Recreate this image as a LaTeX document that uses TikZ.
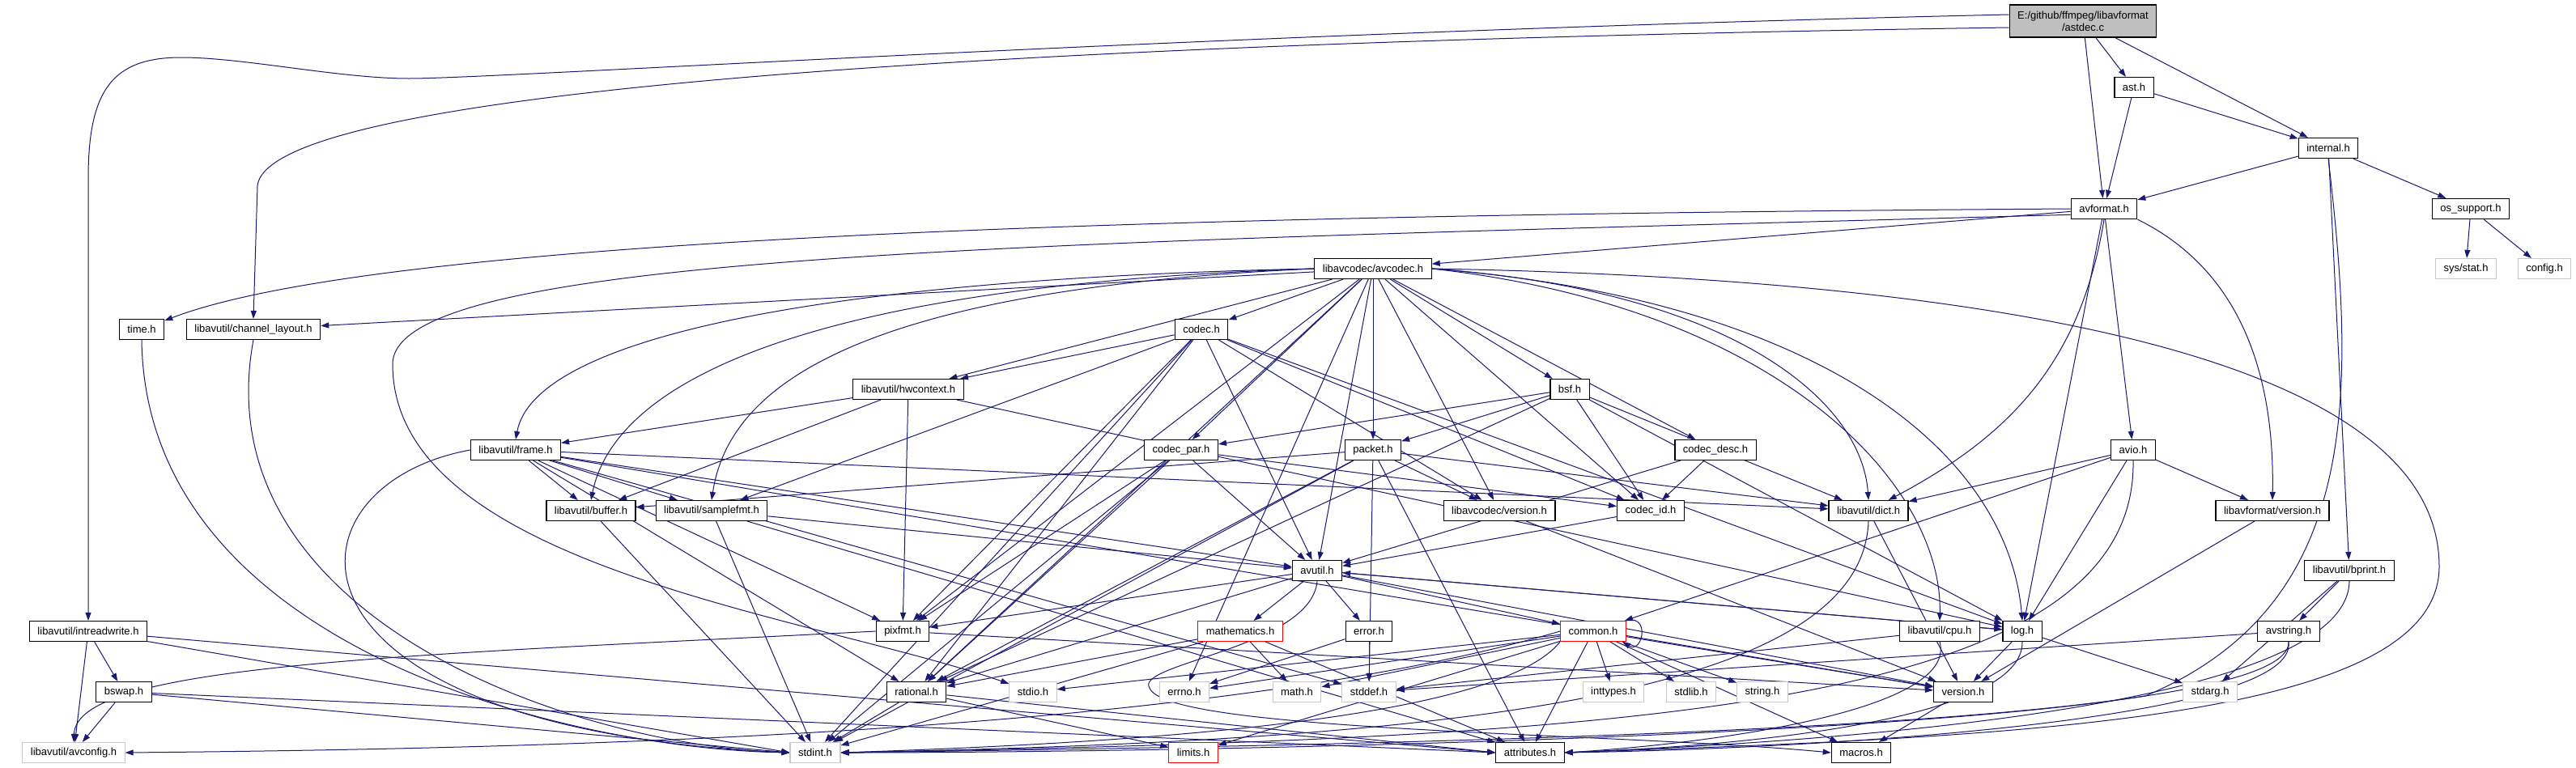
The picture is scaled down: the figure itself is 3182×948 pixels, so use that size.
\documentclass[tikz,border=0pt]{standalone}
\usepackage{fontspec}
\setmainfont{Liberation Sans}
\usetikzlibrary{arrows.meta}
\definecolor{edgeblue}{HTML}{191970}
\definecolor{rootgray}{HTML}{BFBFBF}
\definecolor{sysgray}{HTML}{C8C8C8}
\pgfdeclarelayer{paper}
\pgfdeclarelayer{bg}
\pgfsetlayers{paper,bg,main}

\begin{document}
\begin{tikzpicture}[x=1pt,y=-1pt,
  every node/.style={font=\fontsize{13}{15}\selectfont,inner xsep=10pt,inner ysep=2pt,minimum height=25pt},
  hdr/.style={draw=black,line width=1.2pt,fill=white},
  sys/.style={draw=sysgray,line width=1.2pt,fill=white},
  cut/.style={draw=red,line width=1.2pt,fill=white},
  e/.style={draw=edgeblue,line width=1pt,-{Triangle[length=10pt,width=7pt]}}]
\begin{pgfonlayer}{paper}
\fill[white] (0,0) rectangle (3182,948);
\end{pgfonlayer}
\useasboundingbox (0,0) rectangle (3182,948);
% top rows
\node[hdr,fill=rootgray,align=center,minimum height=40pt,inner ysep=1pt] (astdec) at (2573,26) {E:/github/ffmpeg/libavformat\\/astdec.c};
\node[hdr] (ast) at (2636,108) {ast.h};
\node[hdr] (internal) at (2876,183) {internal.h};
\node[hdr] (avformat) at (2599,258) {avformat.h};
\node[hdr] (ossup) at (3052,258) {os\_support.h};
\node[sys] (sysstat) at (3046,332) {sys/stat.h};
\node[sys] (config) at (3143,332) {config.h};
\node[hdr] (avcodec) at (1696,332) {libavcodec/avcodec.h};
\node[hdr] (time) at (175,407) {time.h};
\node[hdr] (chlayout) at (313,407) {libavutil/channel\_layout.h};
\node[hdr] (codec) at (1484,407) {codec.h};
\node[hdr] (hwctx) at (1122,481) {libavutil/hwcontext.h};
\node[hdr] (bsf) at (1939,481) {bsf.h};
% middle rows
\node[hdr] (frame) at (637,556) {libavutil/frame.h};
\node[hdr] (codecpar) at (1459,556) {codec\_par.h};
\node[hdr] (packet) at (1696,556) {packet.h};
\node[hdr] (codecdesc) at (2119,556) {codec\_desc.h};
\node[hdr] (avio) at (2635,556) {avio.h};
\node[hdr] (buffer) at (730,631) {libavutil/buffer.h};
\node[hdr] (samplefmt) at (879,631) {libavutil/samplefmt.h};
\node[hdr] (lavcver) at (1852,631) {libavcodec/version.h};
\node[hdr] (codecid) at (2039,631) {codec\_id.h};
\node[hdr] (dict) at (2308,631) {libavutil/dict.h};
\node[hdr] (lavfver) at (2807,631) {libavformat/version.h};
\node[hdr] (avutil) at (1627,705) {avutil.h};
\node[hdr] (bprint) at (2902,705) {libavutil/bprint.h};
\node[hdr] (intrw) at (109,780) {libavutil/intreadwrite.h};
\node[hdr] (pixfmt) at (1115,780) {pixfmt.h};
\node[cut] (mathem) at (1532,780) {mathematics.h};
\node[hdr] (error) at (1691,780) {error.h};
\node[cut] (common) at (1968,780) {common.h};
\node[hdr] (cpu) at (2396,780) {libavutil/cpu.h};
\node[hdr] (log) at (2498,780) {log.h};
\node[hdr] (avstring) at (2827,780) {avstring.h};
% bottom rows
\node[hdr] (bswap) at (153,855) {bswap.h};
\node[hdr] (rational) at (1132,855) {rational.h};
\node[sys] (stdio) at (1276,855) {stdio.h};
\node[sys] (errno) at (1463,855) {errno.h};
\node[sys] (math) at (1602,855) {math.h};
\node[sys] (stddef) at (1691,855) {stddef.h};
\node[sys] (inttypes) at (1993,855) {inttypes.h};
\node[sys] (stdlib) at (2089,855) {stdlib.h};
\node[sys] (string) at (2177,855) {string.h};
\node[hdr] (version) at (2425,855) {version.h};
\node[sys] (stdarg) at (2730,855) {stdarg.h};
\node[sys] (avconfig) at (91,930) {libavutil/avconfig.h};
\node[sys] (stdint) at (1007,930) {stdint.h};
\node[cut] (limits) at (1474,930) {limits.h};
\node[hdr] (attributes) at (1890,930) {attributes.h};
\node[hdr] (macros) at (2299,930) {macros.h};
\begin{pgfonlayer}{bg}
% astdec.c and libavformat
\draw[e] (astdec)--(ast);\draw[e] (astdec)--(internal);\draw[e] (astdec)--(avformat);
\draw[e] (astdec.175) .. controls (1500,40) and (620,97) .. (505,97) .. controls (420,97) and (300,71) .. (224,71) .. controls (140,71) and (109,110) .. (109,220) -- (intrw.north);
\draw[e] (astdec.185) .. controls (1400,50) and (330,100) .. (318,230) -- (chlayout.north);
\draw[e] (ast)--(avformat);\draw[e] (ast)--(internal);
\draw[e] (internal)--(avformat);\draw[e] (internal)--(ossup);\draw[e] (internal)--(bprint);
\draw[e] (internal.south) .. controls (2912,500) and (2912,750) .. (2650,860) .. controls (2300,915) and (1400,930) .. (stdint.east);
\draw[e] (ossup)--(sysstat);\draw[e] (ossup)--(config);
\draw[e] (avformat)--(avcodec);\draw[e] (avformat)--(log);\draw[e] (avformat)--(avio);
\draw[e] (avformat.south) .. controls (2570,450) and (2480,540) .. (dict);
\draw[e] (avformat.south east) .. controls (2760,330) and (2810,450) .. (lavfver.north);
\draw[e] (avformat.west) .. controls (1500,265) and (480,290) .. (time);
\draw[e] (avformat.190) .. controls (1300,300) and (485,310) .. (485,450) .. controls (485,700) and (1000,760) .. (stdio);
% libavcodec
\draw[e] (avcodec)--(chlayout);\draw[e] (avcodec)--(hwctx);\draw[e] (avcodec)--(codec);\draw[e] (avcodec)--(pixfmt);
\draw[e] (avcodec.west) .. controls (1000,345) and (660,420) .. (frame.north);
\draw[e] (avcodec.west) .. controls (1000,352) and (760,470) .. (buffer.north);
\draw[e] (avcodec.west) .. controls (1050,358) and (900,480) .. (samplefmt.north);
\draw[e] (avcodec)--(rational);\draw[e] (avcodec)--(errno);\draw[e] (avcodec)--(avutil);\draw[e] (avcodec)--(codecpar);\draw[e] (avcodec)--(packet);
\draw[e] (avcodec)--(bsf);\draw[e] (avcodec)--(lavcver);\draw[e] (avcodec)--(codecid);\draw[e] (avcodec)--(codecdesc);
\draw[e] (avcodec.east) .. controls (2150,360) and (2300,500) .. (dict.north);
\draw[e] (avcodec.east) .. controls (2250,370) and (2480,560) .. (log.north);
\draw[e] (avcodec.east) .. controls (2200,380) and (2400,600) .. (cpu.north);
\draw[e] (avcodec.east) .. controls (2500,345) and (3013,450) .. (3013,700) .. controls (3013,890) and (2500,910) .. (attributes.east);
\draw[e] (codec)--(hwctx);\draw[e] (codec)--(samplefmt);\draw[e] (codec)--(pixfmt);\draw[e] (codec)--(rational);\draw[e] (codec)--(stdint);
\draw[e] (codec)--(avutil);\draw[e] (codec)--(codecid);\draw[e] (codec)--(lavcver);\draw[e] (codec)--(log);
\draw[e] (hwctx)--(frame);\draw[e] (hwctx)--(buffer);\draw[e] (hwctx)--(pixfmt);\draw[e] (hwctx)--(log);
\draw[e] (bsf)--(codecpar);\draw[e] (bsf)--(packet);\draw[e] (bsf)--(codecid);\draw[e] (bsf)--(dict);\draw[e] (bsf)--(log);\draw[e] (bsf)--(rational);
\draw[e] (frame)--(buffer);\draw[e] (frame)--(samplefmt);\draw[e] (frame)--(dict);\draw[e] (frame)--(avutil);\draw[e] (frame)--(pixfmt);
\draw[e] (frame)--(rational);\draw[e] (frame)--(stddef);\draw[e] (frame)--(version);
\draw[e] (frame.west) .. controls (340,600) and (320,900) .. (stdint.west);
\draw[e] (codecpar)--(avutil);\draw[e] (codecpar)--(rational);\draw[e] (codecpar)--(pixfmt);\draw[e] (codecpar)--(stdint);\draw[e] (codecpar)--(codecid);
\draw[e] (packet)--(buffer);\draw[e] (packet)--(dict);\draw[e] (packet)--(lavcver);\draw[e] (packet)--(rational);
\draw[e] (packet)--(stddef);\draw[e] (packet)--(stdint);\draw[e] (packet)--(attributes);
\draw[e] (codecdesc)--(codecid);\draw[e] (codecdesc)--(avutil);\draw[e] (codecid)--(avutil);
\draw[e] (avio)--(dict);\draw[e] (avio)--(log);\draw[e] (avio)--(lavfver);\draw[e] (avio)--(common);
\draw[e] (avio.south) .. controls (2640,880) and (2000,912) .. (stdint.east);
% libavutil
\draw[e] (buffer)--(stdint);
\draw[e] (samplefmt)--(avutil);\draw[e] (samplefmt)--(stdint);\draw[e] (samplefmt)--(attributes);
\draw[e] (lavcver)--(version);\draw[e] (dict)--(version);\draw[e] (lavfver)--(version);
\draw[e] (dict.south) .. controls (2300,860) and (1800,915) .. (stdint.east);
\draw[e] (avutil)--(pixfmt);\draw[e] (avutil)--(mathem);\draw[e] (avutil)--(error);\draw[e] (avutil)--(common);
\draw[e] (avutil)--(rational);\draw[e] (avutil)--(version);\draw[e] (avutil)--(log);
\draw[e] (avutil.south) .. controls (1620,800) and (1400,820) .. (1420,850) .. controls (1440,905) and (2000,905) .. (macros.west);
\draw[e] (bprint)--(avstring);\draw[e] (bprint)--(stdarg);
\draw[e] (bprint.south) .. controls (2900,870) and (2300,915) .. (attributes.east);
\draw[e] (intrw)--(bswap);\draw[e] (intrw)--(avconfig);\draw[e] (intrw)--(stdint.west);\draw[e] (intrw)--(attributes.west);
\draw[e] (pixfmt)--(version);
\draw[e] (pixfmt.west) .. controls (500,810) and (95,820) .. (avconfig.north);
\draw[e] (mathem)--(rational);\draw[e] (mathem)--(math);\draw[e] (mathem)--(stdint);\draw[e] (mathem)--(attributes);
\draw[e] (error)--(errno);\draw[e] (error)--(stddef);
\draw[e] (common)--(errno);\draw[e] (common)--(inttypes);\draw[e] (common)--(stdlib);\draw[e] (common)--(string);
\draw[e] (common)--(stdio);\draw[e] (common)--(math);\draw[e] (common)--(limits);
\draw[e] (common)--(attributes);\draw[e] (common)--(macros);\draw[e] (common)--(version);
\draw[e] (common.south west) .. controls (1850,890) and (1400,918) .. (stdint.east);
\draw[e] (common.west) .. controls (1500,905) and (700,925) .. (avconfig.east);
\draw[e] (common.north east) .. controls +(30,-8) and +(25,15) .. (common.-20);
\draw[e] (cpu)--(stddef);
\draw[e] (cpu.south) .. controls (2420,880) and (2100,920) .. (attributes.east);
\draw[e] (log)--(stdarg);\draw[e] (log)--(version);\draw[e] (log)--(avutil);
\draw[e] (log.south) .. controls (2500,890) and (2150,922) .. (attributes.east);
\draw[e] (avstring)--(stddef);
\draw[e] (avstring.south) .. controls (2830,880) and (2200,915) .. (stdint.east);
\draw[e] (avstring.south) .. controls (2840,890) and (2250,925) .. (attributes.east);
\draw[e] (bswap)--(avconfig);\draw[e] (bswap)--(stdint.west);\draw[e] (bswap)--(attributes.west);
\draw[e] (rational)--(stdint);\draw[e] (rational)--(limits);\draw[e] (rational)--(attributes.west);
\draw[e] (version)--(macros);
\draw[e] (time.south) .. controls (180,800) and (700,925) .. (stdint.west);
\draw[e] (chlayout.south) .. controls (250,760) and (700,920) .. (stdint.west);
\end{pgfonlayer}
\end{tikzpicture}
\end{document}
